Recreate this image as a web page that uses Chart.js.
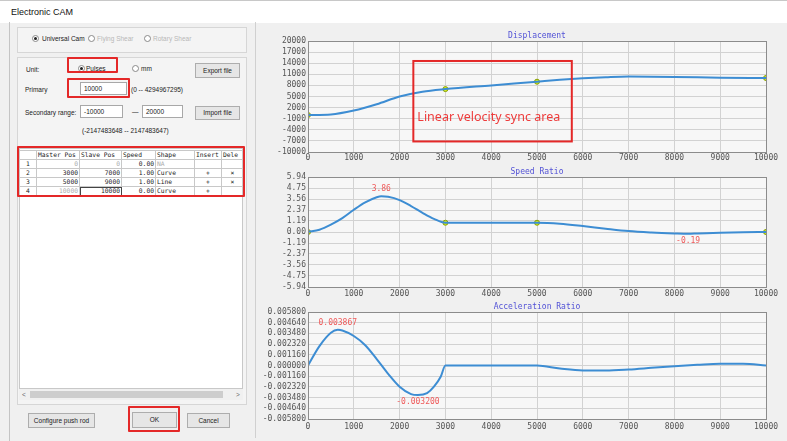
<!DOCTYPE html>
<html>
<head>
<meta charset="utf-8">
<script src="https://cdn.jsdelivr.net/npm/chart.js@4/dist/chart.umd.min.js"></script>
<style>
  body { margin: 0; width: 787px; height: 441px; background: #f0f0f0; position: relative; overflow: hidden;
         font-family: "Liberation Sans", Arial, sans-serif; font-size: 6.5px; color: #222; }
  .abs { position: absolute; }
  .titlebar { left: 0; top: 0; width: 787px; height: 22px; background: #fff; border-top: 1px solid #c8c8c8; }
  .title { left: 11px; top: 7px; font-size: 9px; color: #111; }
  .group { border: 1px solid #d6d6d6; background: #f4f4f4; }
  .radio { width: 5px; height: 5px; border: 1px solid #8a8a8a; border-radius: 50%; background: #fff; }
  .radio.on::after { content: ""; position: absolute; left: 1px; top: 1px; width: 3px; height: 3px; border-radius: 50%; background: #222; }
  .grey { color: #b8b8b8; }
  .btn { background: #e6e6e6; border: 1px solid #adadad; text-align: center; box-sizing: border-box; }
  .input { background: #fff; border: 1px solid #a8a8a8; box-sizing: border-box; padding-left: 3px; }
  .red { border: 2px solid #e42828; border-radius: 1px; box-sizing: border-box; }
  table { border-collapse: collapse; table-layout: fixed; font-family: "DejaVu Sans Mono", monospace; font-size: 6.3px; }
  td { border: 1px solid #c8c8c8; height: 8px; padding: 0 1px; overflow: hidden; white-space: nowrap; line-height: 8px; }
  canvas { position: absolute; }
</style>
</head>
<body>
<div class="abs titlebar"></div>
<div class="abs title">Electronic CAM</div>
<div class="abs" style="left:9px;top:22px;width:245px;height:419px;border-left:1px solid #c4c4c4;"></div>
<div class="abs" style="left:255px;top:22px;width:1px;height:416px;background:#d0d0d0;"></div>

<!-- mode group -->
<div class="abs group" style="left:17px;top:27px;width:228px;height:24px;"></div>
<div class="abs radio on" style="left:32px;top:35px;"></div>
<div class="abs" style="left:42px;top:35px;">Universal Cam</div>
<div class="abs radio" style="left:88px;top:35px;"></div>
<div class="abs grey" style="left:97px;top:35px;">Flying Shear</div>
<div class="abs radio" style="left:144px;top:35px;"></div>
<div class="abs grey" style="left:153px;top:35px;">Rotary Shear</div>

<!-- settings group -->
<div class="abs group" style="left:17px;top:57px;width:228px;height:346px;"></div>
<div class="abs" style="left:26px;top:66px;">Unit:</div>
<div class="abs radio on" style="left:78px;top:65px;"></div>
<div class="abs" style="left:86px;top:65px;text-decoration:underline;">Pulses</div>
<div class="abs red" style="left:67px;top:57px;width:51px;height:16px;"></div>
<div class="abs radio" style="left:132px;top:65px;"></div>
<div class="abs" style="left:141px;top:65px;">mm</div>
<div class="abs btn" style="left:195px;top:63px;width:45px;height:15px;line-height:13px;">Export file</div>

<div class="abs" style="left:25px;top:86px;">Primary</div>
<div class="abs input" style="left:80px;top:82px;width:47px;height:13px;line-height:11px;">10000</div>
<div class="abs red" style="left:67px;top:78px;width:63px;height:20px;"></div>
<div class="abs" style="left:131px;top:86px;">(0 -- 4294967295)</div>

<div class="abs" style="left:25px;top:109px;">Secondary range:</div>
<div class="abs input" style="left:80px;top:105px;width:43px;height:13px;line-height:11px;">-10000</div>
<div class="abs" style="left:132px;top:108px;">—</div>
<div class="abs input" style="left:142px;top:105px;width:41px;height:13px;line-height:11px;">20000</div>
<div class="abs btn" style="left:195px;top:106px;width:45px;height:14px;line-height:12px;">Import file</div>
<div class="abs" style="left:82px;top:127px;">(-2147483648 -- 2147483647)</div>

<div class="abs" style="left:19px;top:148px;width:224px;height:241px;background:#fff;border:1px solid #c8c8c8;box-sizing:border-box;"></div>
<table id="camTable" class="abs" style="left:19px;top:150px;width:224px;"></table>
<div class="abs red" style="left:17px;top:146px;width:228px;height:51px;"></div>
<div class="abs" style="left:19px;top:389px;width:224px;height:11px;background:#f0f0f0;"></div>
<div class="abs" style="left:30px;top:391px;width:193px;height:7px;background:#cdcdcd;"></div>
<div class="abs" style="left:22px;top:391px;color:#666;">&lt;</div>
<div class="abs" style="left:236px;top:391px;color:#666;">&gt;</div>

<div class="abs btn" style="left:28px;top:413px;width:67px;height:15px;line-height:13px;">Configure push rod</div>
<div class="abs btn" style="left:132px;top:412px;width:45px;height:16px;line-height:14px;">OK</div>
<div class="abs red" style="left:128px;top:406px;width:52px;height:26px;"></div>
<div class="abs btn" style="left:187px;top:413px;width:43px;height:15px;line-height:13px;">Cancel</div>

<canvas id="dispChart" width="529" height="137" style="left:258px;top:28px;"></canvas>
<canvas id="speedChart" width="529" height="135" style="left:258px;top:165px;"></canvas>
<canvas id="accChart" width="529" height="136" style="left:258px;top:300px;"></canvas>

<script>
// cam table
const masterPos = [0, 3000, 5000, 10000]
const slavePos = [0, 7000, 9000, 10000]
const speedCol = [0, 1, 1, 0]
const shapeCol = ['NA', 'Curve', 'Line', 'Curve']

// displacement curve
const dispX = [0, 500, 1000, 1500, 2000, 2500, 3000, 4000, 5000, 5500, 6000, 6500, 7000, 8000, 9000, 10000]
const dispY = [0, 150, 1200, 2900, 5000, 6300, 7000, 8000, 9000, 9500, 9900, 10200, 10400, 10300, 10100, 10000]

// speed ratio curve
const speedX = [0, 250, 500, 750, 1000, 1250, 1500, 1600, 1750, 2000, 2250, 2500, 2750, 3000, 4000, 5000,
  5500, 6000, 6500, 7000, 7500, 8000, 8300, 8500, 9000, 9500, 10000]
const speedY = [0, 0.25, 0.8, 1.5, 2.4, 3.2, 3.75, 3.86, 3.8, 3.45, 2.8, 2.07, 1.42, 1.0, 1.0, 1.0,
  0.9, 0.65, 0.36, 0.1, -0.05, -0.15, -0.19, -0.16, -0.08, -0.03, 0]

// acceleration ratio curve
const accX = [0, 250, 500, 650, 750, 1000, 1250, 1500, 1750, 2000, 2250, 2400, 2600, 2750, 2900, 3000, 4000, 5000,
  5500, 6000, 6500, 7000, 7500, 8000, 8500, 9000, 9500, 10000]
const accY = [0, 0.0021, 0.00355, 0.003867, 0.0038, 0.0032, 0.0022, 0.0007, -0.0009, -0.0023, -0.0031, -0.0032,
  -0.0030, -0.0023, -0.0012, 0, 0, 0, -0.00033, -0.00054, -0.00054, -0.00043, -0.00025, -0.00007, 0.00007,
  0.00018, 0.00018, 0]

// tick labels
const masterTicks = [0, 1000, 2000, 3000, 4000, 5000, 6000, 7000, 8000, 9000, 10000]
const dispTickLabels = ['20000', '17000', '14000', '11000', '8000', '5000', '2000', '-1000', '-4000', '-7000', '-10000']
const speedTickLabels = ['5.94', '4.75', '3.56', '2.37', '1.19', '0.00', '-1.19', '-2.37', '-3.56', '-4.75', '-5.94']
const accTickLabels = ['0.005800', '0.004640', '0.003480', '0.002320', '0.001160', '0.000000',
  '-0.001160', '-0.002320', '-0.003480', '-0.004640', '-0.005800']

// sync area note
const syncArea = { x0: 2300, x1: 5760, y0: 14600, y1: -7150, text: 'Linear velocity sync area' }

const tickFont = { family: 'DejaVu Sans Mono', size: 8 }
const lineBlue = '#3d8dd3'

// build the table
const table = document.getElementById('camTable')
const colWidths = [17, 43, 42, 34, 39, 27, 22]
table.innerHTML = '<colgroup>' + colWidths.map(w => `<col style="width:${w}px">`).join('') + '</colgroup>' +
  '<tr><td></td><td>Master Pos</td><td>Slave Pos</td><td>Speed</td><td>Shape</td><td>Insert</td><td>Dele</td></tr>' +
  masterPos.map((m, i) => {
    const first = i === 0
    const last = i === masterPos.length - 1
    const g = 'style="text-align:right;color:#aaa"'
    const r = 'style="text-align:right"'
    return `<tr><td style="text-align:center">${i + 1}</td>` +
      `<td ${first || last ? g : r}>${m}</td>` +
      `<td ${first ? g : (last ? 'style="text-align:right;outline:1px solid #444;outline-offset:-1px"' : r)}>${slavePos[i]}</td>` +
      `<td ${r}>${speedCol[i].toFixed(2)}</td>` +
      `<td ${first ? 'style="color:#aaa"' : ''}>${shapeCol[i]}</td>` +
      `<td style="text-align:center">${first ? '' : '+'}</td>` +
      `<td style="text-align:center">${first || last ? '' : '×'}</td></tr>`
  }).join('')

const framePlugin = {
  id: 'frame',
  beforeDraw(chart) {
    const { ctx, chartArea: a } = chart
    ctx.save()
    ctx.fillStyle = '#f7f7f7'
    ctx.fillRect(a.left, a.top, a.right - a.left, a.bottom - a.top)
    ctx.restore()
  },
  afterDraw(chart) {
    const { ctx, chartArea: a } = chart
    ctx.save()
    ctx.strokeStyle = '#8c8c8c'
    ctx.lineWidth = 1
    ctx.strokeRect(a.left + 0.5, a.top + 0.5, a.right - a.left, a.bottom - a.top)
    ctx.font = '8px "DejaVu Sans Mono"'
    ctx.fillStyle = '#5252d6'
    ctx.textAlign = 'center'
    ctx.textBaseline = 'bottom'
    ctx.fillText(chart.options.plugins.frame.title, (a.left + a.right) / 2, a.top - 1)
    ctx.restore()
  }
}

function extremesPlugin(xs, ys, digits) {
  return {
    id: 'extremes',
    afterDatasetsDraw(chart) {
      const { ctx, scales: { x, y } } = chart
      const hi = ys.indexOf(Math.max(...ys))
      const lo = ys.indexOf(Math.min(...ys))
      ctx.save()
      ctx.font = '8px "DejaVu Sans Mono"'
      ctx.fillStyle = '#ef5a5a'
      ctx.textAlign = 'center'
      ctx.textBaseline = 'bottom'
      ctx.fillText(ys[hi].toFixed(digits), x.getPixelForValue(xs[hi]), y.getPixelForValue(ys[hi]) - 3)
      ctx.textBaseline = 'top'
      ctx.fillText(ys[lo].toFixed(digits), x.getPixelForValue(xs[lo]), y.getPixelForValue(ys[lo]) + 3)
      ctx.restore()
    }
  }
}

const syncPlugin = {
  id: 'sync',
  afterDraw(chart) {
    const { ctx, scales: { x, y } } = chart
    const l = x.getPixelForValue(syncArea.x0)
    const r = x.getPixelForValue(syncArea.x1)
    const t = y.getPixelForValue(syncArea.y0)
    const b = y.getPixelForValue(syncArea.y1)
    ctx.save()
    ctx.strokeStyle = '#e42828'
    ctx.lineWidth = 2
    ctx.strokeRect(l, t, r - l, b - t)
    ctx.font = '12.5px "Noto Sans"'
    ctx.fillStyle = '#ee3b3b'
    ctx.textBaseline = 'middle'
    ctx.fillText(syncArea.text, l + 4, (t + b) / 2 + 16)
    ctx.restore()
  }
}

function makeChart(id, opts) {
  const datasets = [{
    data: opts.xs.map((x, i) => ({ x, y: opts.ys[i] })),
    borderColor: lineBlue,
    borderWidth: 2,
    pointRadius: 0,
    cubicInterpolationMode: 'monotone'
  }]
  if (opts.keyY) {
    datasets.push({
      data: masterPos.map((x, i) => ({ x, y: opts.keyY[i] })),
      showLine: false,
      pointRadius: 2.5,
      pointBackgroundColor: '#d6ef1e',
      pointBorderColor: '#8aa000',
      pointBorderWidth: 1
    })
  }
  const yValues = opts.tickLabels.map(Number)
  return new Chart(document.getElementById(id), {
    type: 'line',
    data: { datasets },
    plugins: [framePlugin, ...(opts.extra || [])],
    options: {
      responsive: false,
      animation: false,
      devicePixelRatio: 1,
      layout: { padding: { top: opts.padTop, right: 21, left: 0, bottom: 0 } },
      plugins: { legend: { display: false }, tooltip: { enabled: false }, frame: { title: opts.title } },
      scales: {
        x: {
          type: 'linear',
          min: 0,
          max: 10000,
          afterBuildTicks: s => { s.ticks = masterTicks.map(value => ({ value })) },
          afterFit: s => { s.height = opts.xHeight },
          grid: { color: '#d2d2d2', drawTicks: false },
          border: { display: false },
          ticks: { font: tickFont, color: '#555', padding: opts.xPad, autoSkip: false, maxRotation: 0, callback: v => String(v) }
        },
        y: {
          type: 'linear',
          min: Math.min(...yValues),
          max: Math.max(...yValues),
          afterBuildTicks: s => { s.ticks = yValues.map(value => ({ value })) },
          afterFit: s => { s.width = 50 },
          grid: { color: '#d2d2d2', drawTicks: false },
          border: { display: false },
          ticks: {
            font: tickFont, color: '#555', padding: 2, autoSkip: false,
            callback: v => opts.tickLabels[yValues.indexOf(v)]
          }
        }
      }
    }
  })
}

makeChart('dispChart', {
  title: 'Displacement', xs: dispX, ys: dispY, keyY: slavePos, tickLabels: dispTickLabels,
  padTop: 13, xHeight: 13, xPad: 1, extra: [syncPlugin]
})
makeChart('speedChart', {
  title: 'Speed Ratio', xs: speedX, ys: speedY, keyY: speedCol, tickLabels: speedTickLabels,
  padTop: 12, xHeight: 13, xPad: 2, extra: [extremesPlugin(speedX, speedY, 2)]
})
makeChart('accChart', {
  title: 'Acceleration Ratio', xs: accX, ys: accY, tickLabels: accTickLabels,
  padTop: 12, xHeight: 17, xPad: 3, extra: [extremesPlugin(accX, accY, 6)]
})
</script>
</body>
</html>
